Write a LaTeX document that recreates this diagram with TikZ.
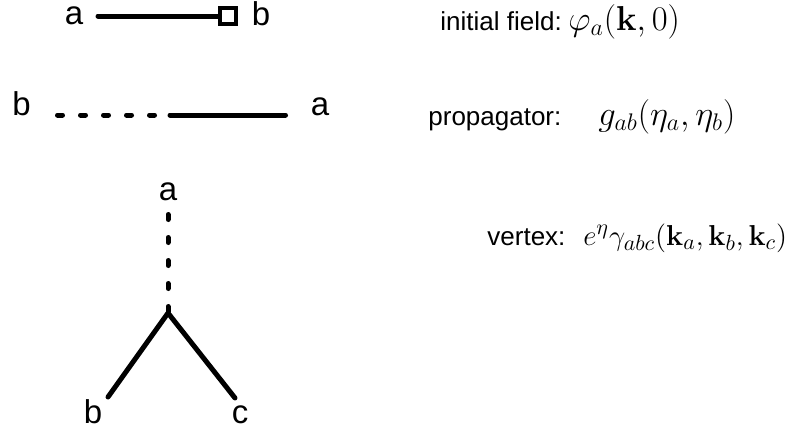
\documentclass[tikz,border=0pt]{standalone}
\usepackage{amsmath,amssymb,bm}
\usepackage[no-math]{fontspec}
\setmainfont{Liberation Sans}
\usepackage{tikz}
\usetikzlibrary{positioning}

\begin{document}
\begin{tikzpicture}[x=0.5pt,y=-0.5pt,
  lbl/.style={font=\fontsize{16.5}{20}\selectfont,anchor=base,inner sep=0pt},
  txt/.style={font=\fontsize{13}{16}\selectfont,anchor=base west,inner sep=0pt},
  eqn/.style={font=\fontsize{16.5}{20}\selectfont,anchor=base west,inner sep=0pt},
  fatline/.style={line width=2.5pt,line cap=round},
  dashline/.style={fatline,dash pattern=on 2.5pt off 9pt}]
\useasboundingbox (0,0) rectangle (796,435);

% initial field
\node[lbl] (fa) at (74,24) {a};
\node[lbl] (fb) at (261,25) {b};
\coordinate (f0) at (98,16);
\node[draw,line width=2pt,minimum size=8pt,inner sep=0pt] (src) at (228,16) {};
\draw[fatline] (f0) -- (src.west);

% propagator
\node[lbl] (pb) at (21.5,115) {b};
\node[lbl] (pa) at (320,115) {a};
\coordinate (p0) at (57.5,115);
\coordinate (pm) at (170,115);
\coordinate (p1) at (285.5,115);
\draw[dashline] (p0) -- (pm);
\draw[fatline] (pm) -- (p1);

% vertex
\node[lbl] (va) at (168,200) {a};
\node[lbl] (vb) at (93,423) {b};
\node[lbl] (vc) at (240,423) {c};
\coordinate (vtop) at (168,214.5);
\coordinate (v) at (168,313);
\coordinate (vl) at (108,397);
\coordinate (vr) at (235,398);
\draw[dashline] (vtop) -- (v);
\draw[fatline] (vl) -- (v) -- (vr);

% rules
\node[txt] (init) at (440,30) {initial field:};
\node[eqn] (initeq) at (568,30) {$\varphi_a(\mathbf{k},0)$};
\node[txt] (prop) at (428,125) {propagator:};
\node[eqn] (propeq) at (598,125) {$g_{ab}(\eta_a,\eta_b)$};
\node[txt] (vert) at (487,245) {vertex:};
\node[eqn,font=\fontsize{15.3}{18}\selectfont] (verteq) at (583,245)
  {$e^{\eta}\gamma_{abc}(\mathbf{k}_a,\mathbf{k}_b,\mathbf{k}_c)$};
\end{tikzpicture}
\end{document}
